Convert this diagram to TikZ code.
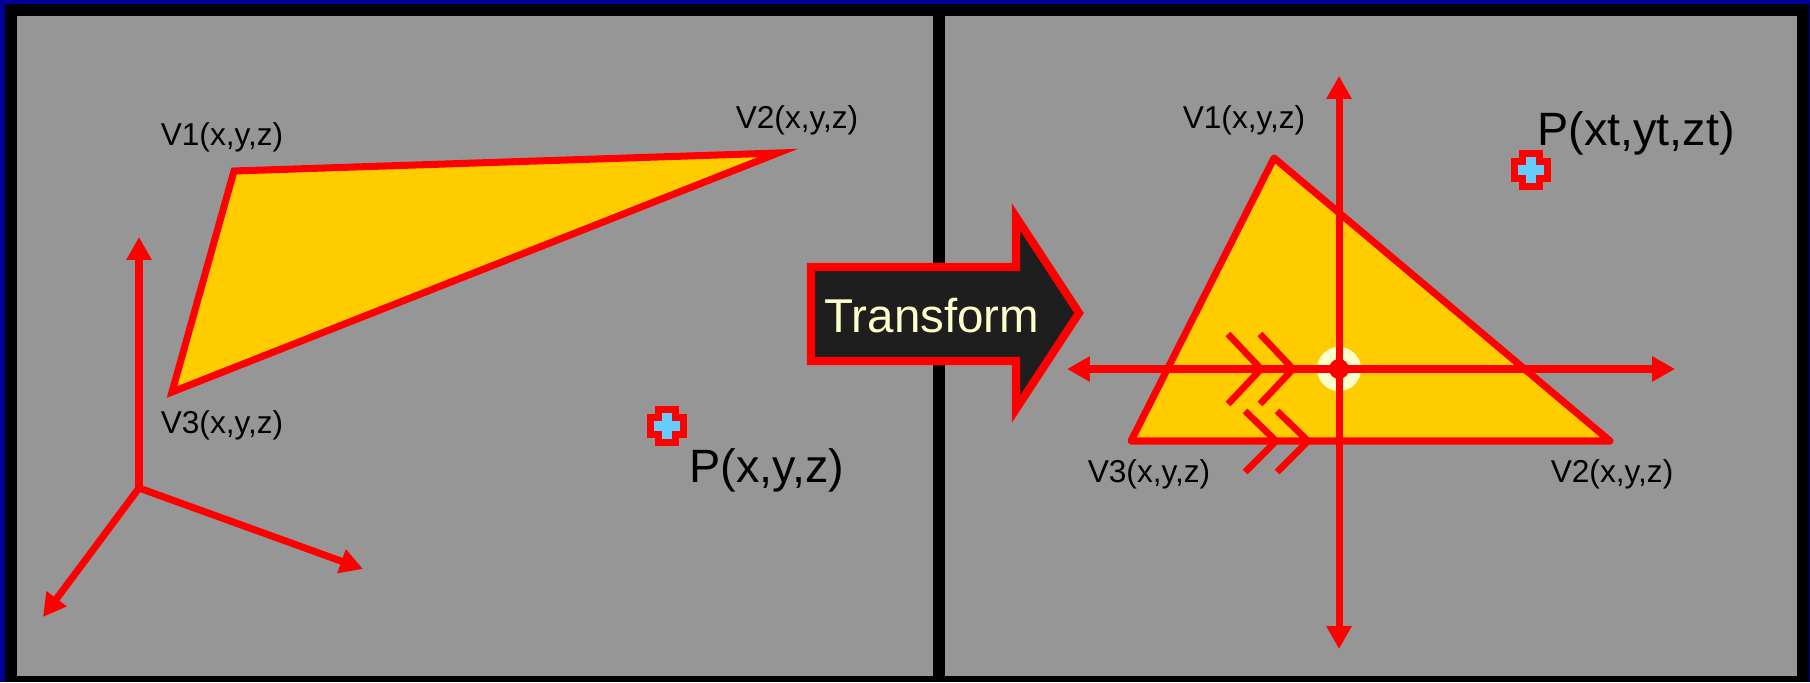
\documentclass[tikz,border=0pt]{standalone}
\usepackage{fontspec}
\setmainfont{Liberation Sans}
\usetikzlibrary{arrows.meta}
\definecolor{frameblue}{RGB}{0,0,153}
\definecolor{panelgray}{RGB}{150,150,150}
\definecolor{triyellow}{RGB}{255,204,0}
\definecolor{markblue}{RGB}{102,204,255}
\definecolor{palecream}{RGB}{255,255,204}
\definecolor{darkfill}{RGB}{30,30,30}
\newcommand{\plusmark}[1]{%
  \draw[pmark] (#1) ++(-8.5,-16.5) -- ++(17,0) -- ++(0,8) -- ++(8,0) -- ++(0,17) -- ++(-8,0) -- ++(0,8) -- ++(-17,0) -- ++(0,-8) -- ++(-8,0) -- ++(0,-17) -- ++(8,0) -- cycle;}

\begin{document}
\begin{tikzpicture}[x=0.01cm, y=-0.01cm,
        tri/.style={draw=red, line width=2pt, fill=triyellow},
        axis/.style={draw=red, line width=2pt, -{Triangle[length=6.5pt,width=6.8pt]}},
        axisboth/.style={draw=red, line width=2pt, {Triangle[length=6.5pt,width=6.8pt]}-{Triangle[length=6.5pt,width=6.8pt]}},
        chev/.style={draw=red, line width=1.9pt},
        lbl/.style={inner sep=0pt, font=\fontsize{9}{11}\selectfont},
        biglbl/.style={inner sep=0pt, font=\fontsize{13.3}{16}\selectfont},
        pmark/.style={draw=red, line width=2pt, fill=markblue}
    ]
        \useasboundingbox (0,0) rectangle (1810,682);
        % frame and the two panels
        \fill[frameblue] (0,0) rectangle (1810,682);
        \fill[black] (5,4) rectangle (1809,682);
        \fill[panelgray] (17,16) rectangle (933,676);
        \fill[panelgray] (945,16) rectangle (1797,676);

        % left panel
        \coordinate (a1) at (234,171);
        \coordinate (a2) at (778,153);
        \coordinate (a3) at (172,392);
        \draw[tri, line join=miter] (a1) -- (a2) -- (a3) -- cycle;
        \coordinate (o1) at (139,488);
        \coordinate (o1up) at (139,237);
        \coordinate (o1dl) at (43,617);
        \coordinate (o1dr) at (363,569);
        \draw[axis] (o1) -- (o1up);
        \draw[axis] (o1) -- (o1dl);
        \draw[axis] (o1) -- (o1dr);
        \node[lbl] (a1lbl) at (222,137) {V1(x,y,z)};
        \node[lbl] (a2lbl) at (797,120) {V2(x,y,z)};
        \node[lbl] (a3lbl) at (222,425) {V3(x,y,z)};
        \coordinate (pa) at (667,426);
        \plusmark{pa}
        \node[biglbl] (palbl) at (767,470) {P(x,y,z)};

        % transform arrow
        \draw[draw=red, line width=2.3pt, fill=darkfill] (811,267) -- (1016,267) -- (1016,217) -- (1079,313) -- (1016,409) -- (1016,361) -- (811,361) -- cycle;
        \node[inner sep=0pt, text=palecream, font=\fontsize{13.5}{16}\selectfont] (xform) at (932,316) {Transform};

        % right panel
        \coordinate (b1) at (1274,158);
        \coordinate (b2) at (1610,441);
        \coordinate (b3) at (1131,441);
        \draw[tri, line join=round] (b1) -- (b2) -- (b3) -- cycle;
        \coordinate (o2) at (1339,369);
        \coordinate (o2up) at (1339,76);
        \coordinate (o2dn) at (1339,649);
        \coordinate (o2l) at (1067,369);
        \coordinate (o2r) at (1675,369);
        \fill[palecream] (o2) circle (0.22cm);
        \draw[axisboth] (o2up) -- (o2dn);
        \draw[axisboth] (o2l) -- (o2r);
        \fill[red] (o2) circle (0.1cm);
        \draw[chev] (1228,334) -- (1261,369) -- (1228,404);
        \draw[chev] (1260,334) -- (1293,369) -- (1260,404);
        \draw[chev] (1245,411) -- (1276,441) -- (1245,472);
        \draw[chev] (1277,411) -- (1308,441) -- (1277,472);
        \node[lbl] (b1lbl) at (1244,120) {V1(x,y,z)};
        \node[lbl] (b2lbl) at (1612,474) {V2(x,y,z)};
        \node[lbl] (b3lbl) at (1149,474) {V3(x,y,z)};
        \coordinate (pb) at (1531,170);
        \plusmark{pb}
        \node[biglbl] (pblbl) at (1636,133) {P(xt,yt,zt)};
    \end{tikzpicture}
\end{document}
